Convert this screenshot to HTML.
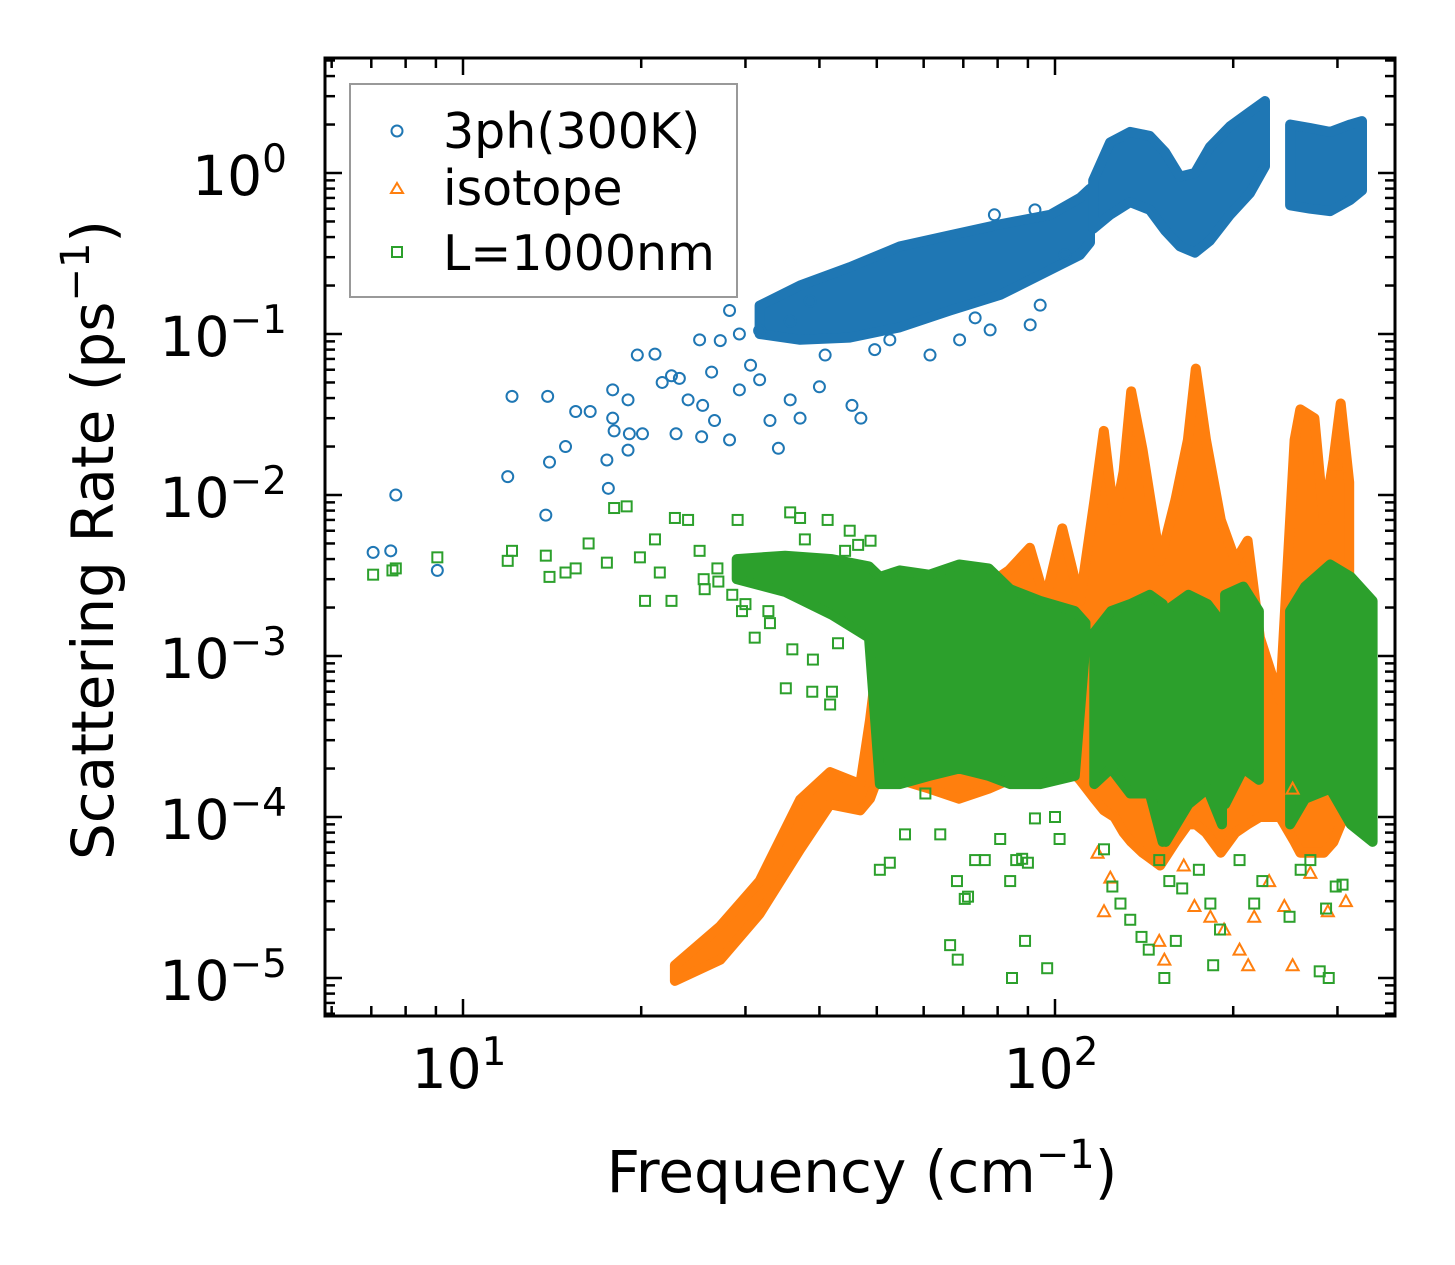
<!DOCTYPE html>
<html><head><meta charset="utf-8"><style>
html,body{margin:0;padding:0;background:#fff;}
svg{display:block;font-family:"DejaVu Sans","Liberation Sans",sans-serif;}
</style></head><body>
<svg id="chart" width="1455" height="1265" viewBox="0 0 1455 1265" xmlns="http://www.w3.org/2000/svg">
<rect width="1455" height="1265" fill="#fff"/>
<g id="bands"></g>
<g id="marks"></g>
<g id="axes"></g>
<g>
<rect x="350" y="84" width="387" height="213" fill="#fff" fill-opacity="0.8" stroke="#999" stroke-width="2"/>
<g><circle cx="397" cy="131" r="5.5" fill="none" stroke="#1f77b4" stroke-width="2"/><text x="443" y="148" font-size="49" fill="#000">3ph(300K)</text></g>
<g><polygon points="397,183 403,193 391,193" fill="none" stroke="#ff7f0e" stroke-width="2"/><text x="443" y="205" font-size="49" fill="#000">isotope</text></g>
<g><rect x="392" y="247" width="10" height="10" fill="none" stroke="#2ca02c" stroke-width="2"/><text x="443" y="270" font-size="49" fill="#000">L=1000nm</text></g>
</g>
<text x="862" y="1192" font-size="58" text-anchor="middle">Frequency (cm<tspan dy="-24" font-size="40">−1</tspan><tspan dy="24">)</tspan></text>
<text transform="translate(113,540) rotate(-90)" font-size="58" text-anchor="middle">Scattering Rate (ps<tspan dy="-24" font-size="40">−1</tspan><tspan dy="24">)</tspan></text>
</svg>
<script>
// ---- data ----
const blueFreq=[7.05,7.55,7.7,9.05,11.9,12.1,13.8,13.9,14.0,14.9,15.5,16.4,17.5,17.6,17.9,17.9,19.0,18.0,19.1,20.1,19.0,19.7,21.1,21.7,22.5,23.2,24.0,22.9,25.3,25.4,26.3,27.2,28.2,26.6,30.6,29.3,31.7,34.1,33.0,35.7,37.1,40.0,40.9,45.4,47.0,38.6,35.7,31.7,29.3,28.2,25.1,73.3,77.7,69.0,61.5,49.6,52.6,90.8,94.4,103.9,92.5,79];
const blueRate=[4.4e-3,4.5e-3,1.0e-2,3.4e-3,1.3e-2,4.1e-2,7.5e-3,4.1e-2,1.6e-2,2.0e-2,3.3e-2,3.3e-2,1.65e-2,1.1e-2,4.5e-2,3.0e-2,1.9e-2,2.5e-2,2.4e-2,2.4e-2,3.9e-2,7.4e-2,7.5e-2,5.0e-2,5.5e-2,5.3e-2,3.9e-2,2.4e-2,2.3e-2,3.6e-2,5.8e-2,9.1e-2,2.2e-2,2.9e-2,6.4e-2,4.5e-2,5.2e-2,1.95e-2,2.9e-2,3.9e-2,3.0e-2,4.7e-2,7.4e-2,3.6e-2,3.0e-2,0.16,0.12,0.105,0.1,0.14,0.092,0.126,0.106,0.092,0.074,0.08,0.092,0.114,0.151,0.31,0.59,0.55];
const blueBandFreq=[31.7,37.1,45.0,54.7,66.5,80.8,98.1,110.2,114.6,null,116,123.9,133.9,144.6,153.4,162.6,172.3,182.7,197.5,213.5,226.3,null,249.5,269.8,291.7,315.3,330.0];
const blueBandLo=[0.1,0.092,0.095,0.11,0.14,0.175,0.25,0.31,0.37,null,0.45,0.55,0.66,0.59,0.44,0.35,0.32,0.38,0.55,0.75,1.1,null,0.63,0.6,0.58,0.68,0.78];
const blueBandHi=[0.15,0.2,0.26,0.35,0.41,0.48,0.55,0.7,0.8,null,0.9,1.55,1.8,1.7,1.35,0.95,1.0,1.45,1.95,2.4,2.8,null,2.0,1.9,1.8,2.0,2.1];

const orangeBandFreq=[22.8,27.2,31.7,37.1,41.7,46.9,48.7,50.6,54.8,61.3,68.9,77.3,83.6,90.7,96.3,102.9,110.2,116.6,120.9,126.0,130.6,134.5,140.6,150.5,159.7,167.7,172.9,179.9,190.6,201.8,211.5,221.9,239.9,253.9,259.6,274.3,284.6,295.4,303.8,314.0];
const orangeBandLo=[9.6e-6,1.3e-5,2.5e-5,6.3e-5,1.2e-4,1.1e-4,1.3e-4,1.9e-4,1.7e-4,1.5e-4,1.3e-4,1.5e-4,1.7e-4,2.2e-4,2.2e-4,2.2e-4,1.7e-4,1.3e-4,1.1e-4,1.0e-4,8.0e-5,7.0e-5,6.0e-5,5.0e-5,7.0e-5,9.0e-5,9.0e-5,8.0e-5,6.0e-5,8.0e-5,9.0e-5,1.0e-4,1.0e-4,7.0e-5,6.0e-5,6.0e-5,6.0e-5,7.0e-5,9.0e-5,1.2e-4];
const orangeBandHi=[1.2e-5,2.1e-5,4.0e-5,1.28e-4,1.9e-4,1.6e-4,4.0e-4,1.27e-3,1.9e-3,2.2e-3,2.8e-3,2.8e-3,3.4e-3,4.7e-3,2.2e-3,6.2e-3,2.2e-3,9.3e-3,2.5e-2,7.0e-3,1.4e-2,4.4e-2,1.9e-2,3.9e-3,9.3e-3,2.2e-2,6.1e-2,2.2e-2,7.0e-3,3.9e-3,5.2e-3,1.3e-3,5.3e-4,2.2e-2,3.4e-2,3.0e-2,7.0e-3,1.65e-2,3.7e-2,1.2e-2];
const orangeFreq=[121,124,150,153,172,183,193,205,212,217,244,252,289,252,300,118,165,230,270,310];
const orangeRate=[2.6e-5,4.2e-5,1.7e-5,1.3e-5,2.8e-5,2.4e-5,2.0e-5,1.5e-5,1.2e-5,2.4e-5,2.8e-5,1.2e-5,2.6e-5,1.5e-4,1.5e-2,6e-5,5e-5,4e-5,4.5e-5,3e-5];

const greenFreq=[7.05,7.6,7.7,9.05,11.9,12.1,13.8,14.0,14.9,15.5,16.3,17.5,18.0,18.9,19.9,20.3,21.1,21.5,22.8,24.0,22.5,25.1,25.6,26.9,29.1,29.6,31.1,32.8,35.1,35.7,37.1,37.8,38.9,41.3,45,44.2,46.5,41.7,42.0,48.8,50.6,50.6,52.6,55.8,60.4,64,68.3,71.3,73.3,76.1,80.8,84,86,88,90,92.5,100,101.8,121,125,129,134,140,150,156,164,175,183,190,205,217,224,249,260,270,287,298,306,66.5,68.5,70.4,84.6,97,89,153,185,280,290,144,160,27,30,33,36,39,43,25.5,28.5];
const greenRate=[3.2e-3,3.4e-3,3.5e-3,4.1e-3,3.9e-3,4.5e-3,4.2e-3,3.1e-3,3.3e-3,3.5e-3,5.0e-3,3.8e-3,8.3e-3,8.5e-3,4.1e-3,2.2e-3,5.3e-3,3.3e-3,7.2e-3,7.0e-3,2.2e-3,4.5e-3,2.6e-3,3.5e-3,7.0e-3,1.9e-3,1.3e-3,1.9e-3,6.3e-4,7.8e-3,7.2e-3,5.3e-3,6.0e-4,7.0e-3,6.0e-3,4.5e-3,4.9e-3,5.0e-4,6.0e-4,5.2e-3,2.3e-4,4.7e-5,5.2e-5,7.8e-5,1.4e-4,7.8e-5,4.0e-5,3.2e-5,5.4e-5,5.4e-5,7.3e-5,4.0e-5,5.4e-5,5.5e-5,5.2e-5,9.8e-5,1.0e-4,7.3e-5,6.3e-5,3.7e-5,2.9e-5,2.3e-5,1.8e-5,5.4e-5,4.0e-5,3.6e-5,4.7e-5,2.9e-5,2.0e-5,5.4e-5,2.9e-5,4.0e-5,2.4e-5,4.7e-5,5.4e-5,2.7e-5,3.7e-5,3.8e-5,1.6e-5,1.3e-5,3.1e-5,1.0e-5,1.15e-5,1.7e-5,1.0e-5,1.2e-5,1.1e-5,1.0e-5,1.5e-5,1.7e-5,2.9e-3,2.1e-3,1.6e-3,1.1e-3,9.5e-4,1.2e-3,3.0e-3,2.4e-3];
const greenBandFreq=[29,35,42,48.5,50.6,54.7,61.3,68.9,77.3,84.0,94.4,108,112.6,null,116.5,124.4,134.0,144.6,152,null,153.8,168,181,191.5,null,193.8,208.0,221,null,249.5,264.5,291.7,316,344];
const greenBandLo=[3.0e-3,2.5e-3,1.8e-3,1.3e-3,1.6e-4,1.6e-4,1.8e-4,2.0e-4,1.8e-4,1.6e-4,1.6e-4,1.8e-4,1.2e-3,null,1.6e-4,2.0e-4,1.4e-4,1.4e-4,7.0e-5,null,7.0e-5,1.2e-4,1.5e-4,9.0e-5,null,1.2e-4,2.0e-4,1.7e-4,null,9.0e-5,1.3e-4,1.5e-4,9.0e-5,7.0e-5];
const greenBandHi=[4.0e-3,4.2e-3,4.0e-3,3.6e-3,3.1e-3,3.4e-3,3.2e-3,3.7e-3,3.5e-3,2.6e-3,2.2e-3,1.9e-3,1.6e-3,null,1.4e-3,1.9e-3,2.1e-3,2.4e-3,2.1e-3,null,1.9e-3,2.4e-3,2.1e-3,1.6e-3,null,2.4e-3,2.7e-3,1.9e-3,null,1.9e-3,2.7e-3,3.7e-3,3.1e-3,2.2e-3];

const xMajorTicks=[10,100];
const xTickLabels=["1","2"];
const yMajorTicks=[1,0.1,0.01,0.001,0.0001,0.00001];
const yTickLabels=["0","−1","−2","−3","−4","−5"];

// ---- scales ----
const L=325,R=1395,T=58,B=1016;
function sx(f){return 463+592*(Math.log10(f)-1);}
function sy(v){return 173-161*Math.log10(v);}
const NS="http://www.w3.org/2000/svg";
function mk(tag,parent){const e=document.createElementNS(NS,tag);parent.appendChild(e);return e;}
const bandsG=document.getElementById('bands'),marksG=document.getElementById('marks'),axesG=document.getElementById('axes');

function drawBand(fr,lo,hi,color,name){
  let segs=[],cur=[];
  for(let i=0;i<fr.length;i++){ if(fr[i]===null){if(cur.length)segs.push(cur);cur=[];} else cur.push(i); }
  if(cur.length)segs.push(cur);
  segs.forEach(s=>{
    const pts=s.map(i=>sx(fr[i]).toFixed(1)+','+sy(hi[i]).toFixed(1)).concat(s.slice().reverse().map(i=>sx(fr[i]).toFixed(1)+','+sy(lo[i]).toFixed(1)));
    const p=mk('polygon',bandsG);
    p.setAttribute('points',pts.join(' '));
    p.setAttribute('fill',color);p.setAttribute('stroke',color);p.setAttribute('stroke-width','10');p.setAttribute('stroke-linejoin','round');
    
    
  });
}
function drawPts(fr,rt,kind,color,name){
  for(let i=0;i<fr.length;i++){
    const x=sx(fr[i]),y=sy(rt[i]);let e;
    if(kind==='c'){e=mk('circle',marksG);e.setAttribute('cx',x);e.setAttribute('cy',y);e.setAttribute('r',5.5);}
    else if(kind==='s'){e=mk('rect',marksG);e.setAttribute('x',x-5);e.setAttribute('y',y-5);e.setAttribute('width',10);e.setAttribute('height',10);}
    else {e=mk('polygon',marksG);e.setAttribute('points',`${x},${y-6} ${x+6},${y+5} ${x-6},${y+5}`);}
    e.setAttribute('fill','none');e.setAttribute('stroke',color);e.setAttribute('stroke-width','2');
    
    
  }
}
drawBand(blueBandFreq,blueBandLo,blueBandHi,'#1f77b4','3ph-dense-region');
drawPts(blueFreq,blueRate,'c','#1f77b4','3ph-point');
drawBand(orangeBandFreq,orangeBandLo,orangeBandHi,'#ff7f0e','isotope-dense-region');
drawPts(orangeFreq,orangeRate,'t','#ff7f0e','isotope-point');
drawBand(greenBandFreq,greenBandLo,greenBandHi,'#2ca02c','boundary-dense-region');
drawPts(greenFreq,greenRate,'s','#2ca02c','boundary-point');

// ---- axes ----
function line(x1,y1,x2,y2,w,name){const l=mk('line',axesG);l.setAttribute('x1',x1);l.setAttribute('y1',y1);l.setAttribute('x2',x2);l.setAttribute('y2',y2);l.setAttribute('stroke','#000');l.setAttribute('stroke-width',w);
  
  }
for(let d=0;d<=2;d++){for(let m=1;m<=9;m++){const f=m*Math.pow(10,d);const x=sx(f);if(x<L+1||x>R-1)continue;const len=(m===1)?17:10;
  line(x,B,x,B-len,2.5,'x-tick');line(x,T,x,T+len,2.5,'x-tick-top');}}
for(let d=-6;d<=0;d++){for(let m=1;m<=9;m++){const v=m*Math.pow(10,d);const y=sy(v);if(y<T+1||y>B-1)continue;const len=(m===1)?17:10;
  line(L,y,L+len,y,2.5,'y-tick');line(R,y,R-len,y,2.5,'y-tick-right');}}
const fr=mk('rect',axesG);fr.setAttribute('x',L);fr.setAttribute('y',T);fr.setAttribute('width',R-L);fr.setAttribute('height',B-T);fr.setAttribute('fill','none');fr.setAttribute('stroke','#000');fr.setAttribute('stroke-width','3');


xMajorTicks.forEach((f,i)=>{const t=mk('text',axesG);t.setAttribute('x',sx(f)-4);t.setAttribute('y',1088);t.setAttribute('font-size','55');t.setAttribute('text-anchor','middle');
  t.innerHTML='10<tspan dy="-23" font-size="39">'+xTickLabels[i]+'</tspan>';
  
  });
yMajorTicks.forEach((v,i)=>{const t=mk('text',axesG);t.setAttribute('x',287);t.setAttribute('y',sy(v)+22);t.setAttribute('font-size','55');t.setAttribute('text-anchor','end');
  t.innerHTML='10<tspan dy="-23" font-size="39">'+yTickLabels[i]+'</tspan>';
  
  });
</script>
</body></html>
